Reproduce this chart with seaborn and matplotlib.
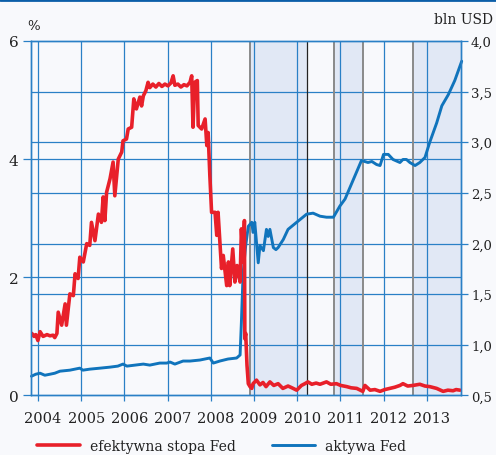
import seaborn as sns
import matplotlib.pyplot as plt
from matplotlib.lines import Line2D

# effective Fed funds rate (%), decimal years
rate_t = [2003.86, 2003.91, 2003.95, 2004.00, 2004.05, 2004.12, 2004.21, 2004.28, 2004.35, 2004.39,
          2004.44, 2004.47, 2004.55, 2004.63, 2004.66, 2004.74, 2004.82, 2004.86, 2004.93, 2004.97,
          2005.05, 2005.13, 2005.20, 2005.24, 2005.32, 2005.40, 2005.47, 2005.51, 2005.55, 2005.59,
          2005.67, 2005.74, 2005.78, 2005.86, 2005.94, 2005.97, 2006.05, 2006.09, 2006.17, 2006.22,
          2006.28, 2006.36, 2006.40, 2006.44, 2006.50, 2006.55, 2006.59, 2006.66, 2006.73, 2006.80,
          2006.87, 2006.94, 2007.01, 2007.08, 2007.13, 2007.17, 2007.24, 2007.31, 2007.38, 2007.45,
          2007.52, 2007.56, 2007.59, 2007.63, 2007.69, 2007.71, 2007.79, 2007.87, 2007.91, 2007.94,
          2007.98, 2008.02, 2008.10, 2008.14, 2008.17, 2008.25, 2008.29, 2008.37, 2008.41, 2008.44,
          2008.51, 2008.56, 2008.61, 2008.68, 2008.71, 2008.75, 2008.78, 2008.79, 2008.81, 2008.84,
          2008.87, 2008.91, 2008.95, 2008.98, 2009.06, 2009.14, 2009.21, 2009.28, 2009.37, 2009.46,
          2009.56, 2009.67, 2009.79, 2009.88, 2009.99, 2010.10, 2010.18, 2010.25, 2010.34, 2010.44,
          2010.53, 2010.68, 2010.78, 2010.91, 2011.01, 2011.15, 2011.25, 2011.38, 2011.52, 2011.57,
          2011.69, 2011.80, 2011.92, 2012.03, 2012.15, 2012.26, 2012.38, 2012.45, 2012.56, 2012.68,
          2012.84, 2012.96, 2013.07, 2013.23, 2013.38, 2013.49, 2013.61, 2013.68, 2013.77]
rate_v = [1.05, 1.00, 1.03, 0.93, 1.08, 1.00, 1.03, 1.01, 1.02, 0.98,
          1.05, 1.41, 1.19, 1.55, 1.19, 1.72, 1.69, 2.06, 1.98, 2.34,
          2.26, 2.57, 2.54, 2.93, 2.62, 3.07, 2.93, 3.36, 2.96, 3.44,
          3.67, 3.95, 3.38, 4.00, 4.12, 4.31, 4.34, 4.51, 4.54, 5.02,
          4.85, 5.05, 4.90, 5.07, 5.16, 5.30, 5.21, 5.27, 5.22, 5.28,
          5.23, 5.27, 5.24, 5.29, 5.41, 5.25, 5.27, 5.22, 5.26, 5.24,
          5.30, 5.41, 4.54, 5.30, 5.33, 4.57, 4.51, 4.68, 4.23, 4.45,
          3.72, 3.10, 3.10, 2.71, 3.10, 2.15, 2.37, 1.86, 2.26, 1.86,
          2.48, 1.92, 2.20, 1.92, 2.82, 2.26, 2.96, 0.96, 1.05, 0.51,
          0.20, 0.15, 0.12, 0.20, 0.26, 0.18, 0.22, 0.15, 0.23, 0.17,
          0.20, 0.12, 0.16, 0.13, 0.09, 0.17, 0.20, 0.23, 0.19, 0.21,
          0.19, 0.23, 0.19, 0.20, 0.17, 0.15, 0.13, 0.12, 0.07, 0.17,
          0.09, 0.10, 0.07, 0.10, 0.12, 0.14, 0.17, 0.20, 0.16, 0.17,
          0.19, 0.16, 0.15, 0.12, 0.07, 0.09, 0.08, 0.10, 0.09]

# Fed assets (bln USD, right axis)
assets_t = [2003.85, 2003.95, 2004.05, 2004.16, 2004.28, 2004.39, 2004.51, 2004.74, 2004.97, 2005.04,
            2005.20, 2005.44, 2005.67, 2005.85, 2005.97, 2006.06, 2006.25, 2006.44, 2006.59, 2006.82,
            2006.98, 2007.06, 2007.17, 2007.36, 2007.52, 2007.75, 2007.98, 2008.06, 2008.21, 2008.40,
            2008.60, 2008.68, 2008.71, 2008.75, 2008.81, 2008.87, 2008.95, 2008.98, 2009.02, 2009.10,
            2009.14, 2009.22, 2009.29, 2009.33, 2009.37, 2009.45, 2009.51, 2009.56, 2009.68, 2009.79,
            2009.99, 2010.22, 2010.37, 2010.53, 2010.68, 2010.84, 2010.99, 2011.11, 2011.30, 2011.49,
            2011.64, 2011.73, 2011.84, 2011.92, 2012.00, 2012.11, 2012.22, 2012.38, 2012.45, 2012.53,
            2012.61, 2012.73, 2012.84, 2012.96, 2013.07, 2013.23, 2013.35, 2013.50, 2013.65, 2013.81]
assets_v = [0.69, 0.71, 0.72, 0.70, 0.71, 0.72, 0.74, 0.75, 0.77, 0.75,
            0.76, 0.77, 0.78, 0.79, 0.81, 0.79, 0.80, 0.81, 0.80, 0.82,
            0.82, 0.83, 0.81, 0.84, 0.84, 0.85, 0.87, 0.82, 0.84, 0.86,
            0.87, 0.90, 1.22, 1.71, 1.98, 2.17, 2.21, 2.11, 2.21, 1.81,
            1.98, 1.93, 2.14, 2.07, 2.14, 1.96, 1.94, 1.96, 2.04, 2.14,
            2.21, 2.29, 2.30, 2.27, 2.26, 2.26, 2.37, 2.44, 2.63, 2.82,
            2.80, 2.81, 2.78, 2.77, 2.88, 2.88, 2.83, 2.80, 2.83, 2.83,
            2.80, 2.77, 2.80, 2.85, 3.00, 3.19, 3.36, 3.47, 3.61, 3.80]

years = list(range(2004, 2014))
left_ticks = [0, 2, 4, 6]
right_ticks = [0.5, 1.0, 1.5, 2.0, 2.5, 3.0, 3.5, 4.0]
right_labels = ["0,5", "1,0", "1,5", "2,0", "2,5", "3,0", "3,5", "4,0"]
# QE periods (start, end)
qe_start = [2008.91, 2010.85, 2012.68]
qe_end = [2010.23, 2011.52, 2013.80]

BG = "#f8f9fc"
GRID = "#2a80c6"
RED = "#e8202a"
BLUE = "#1074bc"
SHADE = "#e1e8f5"
TXT = "#222222"

sns.set_theme(style="white")
plt.rcParams['font.family'] = ['DejaVu Serif']

fig = plt.figure(figsize=(4.96, 4.56), dpi=100, facecolor=BG)
ax = fig.add_axes([0.0625, 0.1305, 0.8675, 0.7775])
ax2 = ax.twinx()
ax.set_zorder(ax2.get_zorder() + 1)
ax.patch.set_visible(False)

ax.set_xlim(2003.84, 2013.80)
ax.set_ylim(0, 6)
ax2.set_ylim(0.5, 4.0)

# shaded periods + grid on the lower axes, so both lines stay on top
for s, e in zip(qe_start, qe_end):
    ax2.axvspan(s, e, color=SHADE, lw=0, zorder=0.5)
for y in years:
    ax2.axvline(y, color=GRID, lw=0.9, zorder=1)
for v in left_ticks[1:-1]:
    ax2.add_line(Line2D([0, 1], [v, v], transform=ax.get_yaxis_transform(),
                        color=GRID, lw=0.9, zorder=1))
for v in right_ticks[1:-1]:
    ax2.axhline(v, color=GRID, lw=0.9, zorder=1)
for s in qe_start:
    ax2.axvline(s, color="#8a8a8a", lw=1.4, zorder=1.2)
ax2.axvline(qe_end[1], color="#8a8a8a", lw=1.4, zorder=1.2)
ax2.axvline(qe_end[0], color="#222222", lw=0.9, zorder=1.2)

sns.lineplot(x=assets_t, y=assets_v, ax=ax2, color=BLUE, linewidth=2.1, zorder=2,
             label="aktywa Fed", legend=False)
sns.lineplot(x=rate_t, y=rate_v, ax=ax, color=RED, linewidth=2.6, zorder=2,
             label="efektywna stopa Fed", legend=False)
ax2.lines[-1].set_clip_on(False)

for a in (ax, ax2):
    for sp in a.spines.values():
        sp.set_color(GRID)
        sp.set_linewidth(1.0)

ax.set_yticks(left_ticks)
ax.set_yticklabels([str(v) for v in left_ticks])
ax.tick_params(axis='y', which='major', left=True, length=6, width=0.9, color=GRID,
               labelsize=11, pad=3, labelcolor=TXT)
ax2.set_yticks(right_ticks)
ax2.set_yticklabels(right_labels)
ax2.tick_params(axis='y', right=True, length=5, width=0.9, color=GRID,
                labelsize=9.5, pad=2, labelcolor=TXT)

# year gridlines as major ticks, labels slightly right of them
ax.set_xticks(years)
ax.set_xticklabels([])
ax.set_xticks([y + 0.12 for y in years], minor=True)
ax.set_xticklabels([str(y) for y in years], minor=True)
ax.tick_params(axis='x', which='major', bottom=True, length=4.5, width=0.9, color=GRID)
ax.tick_params(axis='x', which='minor', bottom=True, length=0, labelsize=10.5, pad=11,
               labelcolor=TXT)
ax.set_xlabel("")
ax.set_ylabel("")
ax2.set_ylabel("")

fig.text(34 / 496, 1 - 27 / 456, "%", ha="center", va="center", fontsize=9.5, color=TXT)
fig.text(493 / 496, 1 - 20 / 456, "bln USD", ha="right", va="center", fontsize=10,
         color=TXT)

# top bar
fig.add_artist(Line2D([0, 1], [0.997, 0.997], transform=fig.transFigure, color="#0b5ea8", lw=2))

handles = [ax.lines[-1], ax2.lines[-1]]
fig.legend(handles, [h.get_label() for h in handles], loc="center left",
           bbox_to_anchor=(37 / 496, 9 / 456), ncol=2, frameon=False, fontsize=10,
           handlelength=3.1, handletextpad=0.7, columnspacing=2.6, borderpad=0,
           borderaxespad=0, labelcolor=TXT)

plt.savefig("out.png", dpi=100, facecolor=BG)
